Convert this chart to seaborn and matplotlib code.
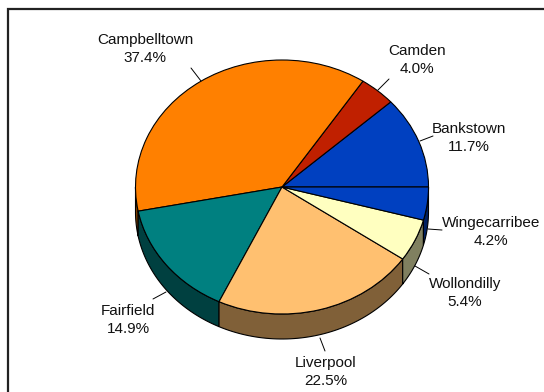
import numpy as np
import seaborn as sns
import matplotlib.pyplot as plt
from matplotlib.patches import Polygon, Rectangle

sns.set_theme(style='white')
plt.rcParams['font.family'] = ['Liberation Sans', 'DejaVu Sans']

# Share of total by LGA, counter-clockwise from 3 o'clock
regions = ['Bankstown', 'Camden', 'Campbelltown', 'Fairfield',
           'Liverpool', 'Wollondilly', 'Wingecarribee']
shares = [11.7, 4.0, 37.4, 14.9, 22.5, 5.4, 4.2]
colours = ['#0040C0', '#C02000', '#FF8000', '#008080',
           '#FFC070', '#FFFFC0', '#0040C0']

# Layout (pixels in the 544x392 image): pie centre, radii, wall depth
cx, cy, rx, ry, depth_px = 282, 187, 146.5, 127, 25
W, H = 544, 392
# label centre and leader (inner, outer) per region, in pixels
label_pos = [(469, 138), (417, 60), (145, 49), (128, 320),
             (326, 372), (465, 293), (491, 232)]
leaders = [((420, 141), (433, 136)), ((378, 90), (389, 79)),
           ((201, 81), (191, 68)), ((166, 292), (153, 299)),
           ((320, 338), (325, 351)), ((415, 266), (429, 274)),
           ((428, 229), (442, 230))]


def px(p):
    # pixel -> data units (1 unit = rx horizontally, ry vertically)
    return (p[0] - cx) / rx, (cy - p[1]) / ry


fig = plt.figure(figsize=(W / 100, H / 100), dpi=100)
ax = fig.add_axes([0, 0, 1, 1])

# side walls of the front half, drawn under the top face
d = depth_px / ry
frac = np.array(shares) / sum(shares)
edges = np.concatenate([[0], np.cumsum(frac)]) * 360
for i, c in enumerate(colours):
    a1, a2 = max(edges[i], 180), min(edges[i + 1], 360)
    if a2 <= a1:
        continue
    t = np.radians(np.linspace(a1, a2, 60))
    top = np.column_stack([np.cos(t), np.sin(t)])
    bot = np.column_stack([np.cos(t), np.sin(t) - d])[::-1]
    dark = tuple(v * 0.5 for v in plt.matplotlib.colors.to_rgb(c))
    ax.add_patch(Polygon(np.vstack([top, bot]), closed=True, facecolor=dark,
                         edgecolor='black', linewidth=0.8, zorder=1))

ax.pie(shares, colors=colours, startangle=0, counterclock=True, radius=1,
       wedgeprops=dict(edgecolor='black', linewidth=0.8, zorder=2))
for w in ax.patches:
    w.set_zorder(max(w.get_zorder(), 1))

ax.set_aspect('auto')
ax.set_xlim(-cx / rx, (W - cx) / rx)
ax.set_ylim(-(H - cy) / ry, cy / ry)
ax.axis('off')

for name, s, lp, (p0, p1) in zip(regions, shares, label_pos, leaders):
    x, y = px(lp)
    ax.text(x, y, '{}\n{:.1f}%'.format(name, s), ha='center', va='center',
            fontsize=11, linespacing=1.3, color='#111111', zorder=5)
    (x0, y0), (x1, y1) = px(p0), px(p1)
    ax.plot([x0, x1], [y0, y1], color='black', linewidth=0.7, zorder=4)

# outer frame (runs off the right and bottom of the image)
fig.patches.append(Rectangle((8 / W, -0.05), 1.1, 1 - 9 / H + 0.05,
                             transform=fig.transFigure, fill=False,
                             edgecolor='#222222', linewidth=1.6))

fig.savefig('out.png', dpi=100)
